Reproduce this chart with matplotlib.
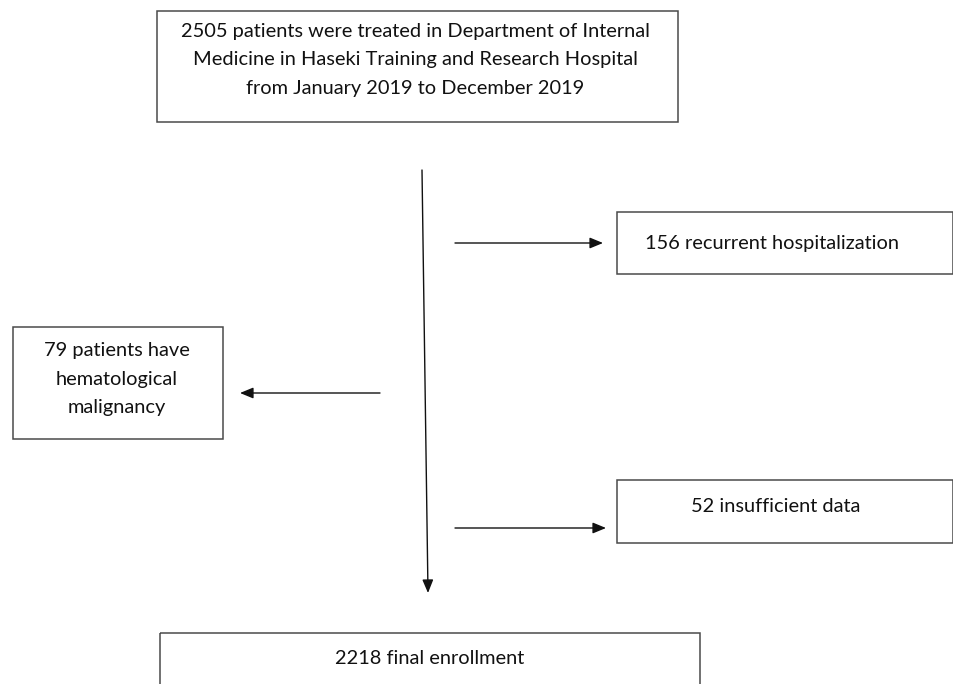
import matplotlib
matplotlib.use("Agg")
import matplotlib.pyplot as plt
from matplotlib.patches import Rectangle

plt.rcParams['font.family'] = ['Lato', 'DejaVu Sans']

# flowchart contents
labels = [
    "2505 patients were treated in Department of Internal\nMedicine in Haseki Training and Research Hospital\nfrom January 2019 to December 2019",
    "156 recurrent hospitalization",
    "79 patients have\nhematological\nmalignancy",
    "52 insufficient data",
    "2218 final enrollment",
]

# box geometry in pixel coords: x0, y0, x1, y1 (y downward)
boxes = [
    (157, 11, 678, 122),
    (617, 212, 953, 274),
    (13, 327, 223, 439),
    (617, 480, 953, 543),
    (160, 633, 700, 700),
]
# text centre (x, y)
text_pos = [(415, 60), (772, 244), (117, 379), (776, 507), (430, 659)]

fig = plt.figure(figsize=(9.54, 6.84), dpi=100)
ax = fig.add_axes([0, 0, 1, 1])
ax.set_xlim(0, 954)
ax.set_ylim(684, 0)
ax.axis('off')

for (x0, y0, x1, y1), lab, (tx, ty) in zip(boxes, labels, text_pos):
    ax.add_patch(Rectangle((x0, y0), x1 - x0, y1 - y0, fill=False,
                           edgecolor='#4a4a4a', lw=1.1))
    ax.text(tx, ty, lab, ha='center', va='center', fontsize=14.4,
            color='#111111', linespacing=1.82)

arrow_kw = dict(arrowstyle='-|>,head_length=0.8,head_width=0.33',
                color='#111111', lw=1.0, shrinkA=0, shrinkB=0)

# main vertical arrow
ax.annotate('', xy=(428, 593), xytext=(422, 170), arrowprops=arrow_kw)
# side arrows
ax.annotate('', xy=(603, 243), xytext=(455, 243), arrowprops=arrow_kw)
ax.annotate('', xy=(240, 393), xytext=(380, 393), arrowprops=arrow_kw)
ax.annotate('', xy=(606, 528), xytext=(455, 528), arrowprops=arrow_kw)

fig.savefig('out.png', dpi=100)
